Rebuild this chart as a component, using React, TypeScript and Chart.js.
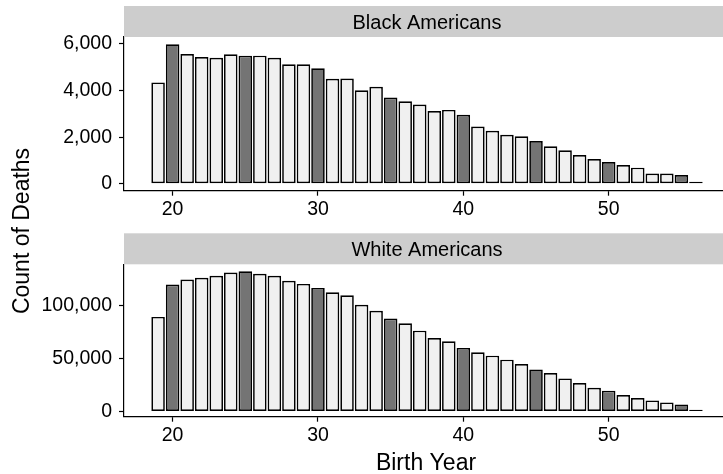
import { useEffect, useRef } from "react";
import { Chart, registerables } from "chart.js";

Chart.register(...registerables);

// Birth years on the x axis
const birthYears = [
  19, 20, 21, 22, 23, 24, 25, 26, 27, 28, 29, 30, 31, 32, 33, 34, 35, 36, 37,
  38, 39, 40, 41, 42, 43, 44, 45, 46, 47, 48, 49, 50, 51, 52, 53, 54, 55, 56,
];

// Count of deaths per birth year
const blackDeaths = [
  4350, 5990, 5570, 5440, 5410, 5560, 5500, 5500, 5410, 5130, 5130, 4960,
  4510, 4520, 4010, 4160, 3700, 3540, 3400, 3120, 3170, 2960, 2460, 2270,
  2100, 2040, 1830, 1610, 1440, 1230, 1060, 930, 800, 690, 440, 440, 370, 80,
];
const whiteDeaths = [
  89300, 119900, 124600, 126200, 128100, 131200, 132500, 130000, 128100,
  123400, 120500, 116700, 112600, 109700, 100700, 95000, 87700, 83300, 76300,
  69400, 66200, 60000, 55800, 52700, 48900, 44800, 39700, 36300, 31200, 26900,
  22400, 19600, 15500, 12700, 10400, 8500, 6600, 1500,
];

const yearTicks = [20, 30, 40, 50];
const blackTicks = [0, 2000, 4000, 6000];
const whiteTicks = [0, 50000, 100000];

const panelTitles = ["Black Americans", "White Americans"];
const xTitle = "Birth Year";
const yTitle = "Count of Deaths";

const FONT = '"Liberation Sans", Arial, Helvetica, sans-serif';
const W = 730;
const H = 474;
const LIGHT = "#f0f0f0";
const DARK = "#747474";
const STRIP = "#cdcdcd";
const STRIP_H = 31;

type PanelSpec = {
  values: number[];
  ticks: number[];
  yMin: number;
  yMax: number;
  title: string;
  padTop: number;
  padBottom: number;
  withAxisTitles: boolean;
};

function buildPanel(canvas: HTMLCanvasElement, spec: PanelSpec) {
  // facet strip above the panel, plus the shared axis titles on the lower panel
  const stripPlugin = {
    id: "facetStrip",
    afterDraw(chart: any) {
      const { ctx, chartArea } = chart;
      ctx.save();
      ctx.fillStyle = STRIP;
      ctx.fillRect(chartArea.left, chartArea.top - STRIP_H, W - chartArea.left, STRIP_H);
      ctx.fillStyle = "#000";
      ctx.font = `20px ${FONT}`;
      ctx.textAlign = "center";
      ctx.textBaseline = "alphabetic";
      ctx.fillText(spec.title, (chartArea.left + W) / 2, chartArea.top - STRIP_H + 23);
      if (spec.withAxisTitles) {
        ctx.font = `23px ${FONT}`;
        ctx.fillText(xTitle, 426, 469.5);
        ctx.translate(29, 231);
        ctx.rotate(-Math.PI / 2);
        ctx.fillText(yTitle, 0, 0);
      }
      ctx.restore();
    },
  };

  return new Chart(canvas, {
    type: "bar",
    data: {
      datasets: [
        {
          data: birthYears.map((x, i) => ({ x, y: spec.values[i] })),
          backgroundColor: birthYears.map((y) => (y % 5 === 0 ? DARK : LIGHT)),
          borderColor: "#000",
          borderWidth: 1.7,
          borderSkipped: false,
          barPercentage: 0.93,
          categoryPercentage: 1,
        },
      ],
    },
    options: {
      animation: false,
      responsive: false,
      events: [],
      layout: { padding: { top: spec.padTop, bottom: spec.padBottom, left: 0, right: 0 } },
      plugins: { legend: { display: false }, tooltip: { enabled: false } },
      scales: {
        x: {
          type: "linear",
          offset: false,
          min: 16.655,
          max: 58.345,
          afterBuildTicks: (s: any) => {
            s.ticks = yearTicks.map((v) => ({ value: v }));
          },
          afterFit: (s: any) => {
            s.height = 40;
          },
          grid: {
            offset: false,
            drawOnChartArea: false,
            drawTicks: true,
            tickLength: 5,
            tickColor: "#000",
            tickWidth: 1.2,
          },
          border: { display: true, color: "#000", width: 1.2 },
          ticks: {
            color: "#000",
            font: { family: FONT, size: 19.5 },
            padding: 2,
            maxRotation: 0,
            autoSkip: false,
            callback: (v: any) => String(v),
          },
        },
        y: {
          type: "linear",
          min: spec.yMin,
          max: spec.yMax,
          afterBuildTicks: (s: any) => {
            s.ticks = spec.ticks.map((v) => ({ value: v }));
          },
          afterFit: (s: any) => {
            s.width = 124;
          },
          grid: {
            drawOnChartArea: false,
            drawTicks: true,
            tickLength: 5,
            tickColor: "#000",
            tickWidth: 1.2,
          },
          border: { display: true, color: "#000", width: 1.2 },
          ticks: {
            color: "#000",
            font: { family: FONT, size: 19.5 },
            padding: 7,
            autoSkip: false,
            callback: (v: any) => Number(v).toLocaleString("en-US"),
          },
        },
      },
    },
    plugins: [stripPlugin],
  } as any);
}

export default function App() {
  const topRef = useRef<HTMLCanvasElement>(null);
  const bottomRef = useRef<HTMLCanvasElement>(null);

  useEffect(() => {
    const top = buildPanel(topRef.current!, {
      values: blackDeaths,
      ticks: blackTicks,
      yMin: -300,
      yMax: 6300,
      title: panelTitles[0],
      padTop: 37,
      padBottom: H - 190.7 - 40,
      withAxisTitles: false,
    });
    const bottom = buildPanel(bottomRef.current!, {
      values: whiteDeaths,
      ticks: whiteTicks,
      yMin: -5000,
      yMax: 139000,
      title: panelTitles[1],
      padTop: 264.3,
      padBottom: H - 416.7 - 40,
      withAxisTitles: true,
    });
    return () => {
      top.destroy();
      bottom.destroy();
    };
  }, []);

  const canvasStyle: React.CSSProperties = {
    position: "absolute",
    left: 0,
    top: 0,
    width: W,
    height: H,
  };

  return (
    <div
      style={{
        position: "fixed",
        left: 0,
        top: 0,
        width: 723,
        height: 474,
        overflow: "hidden",
        background: "#fff",
      }}
    >
      <canvas ref={bottomRef} width={W} height={H} style={canvasStyle} />
      <canvas ref={topRef} width={W} height={H} style={canvasStyle} />
    </div>
  );
}
